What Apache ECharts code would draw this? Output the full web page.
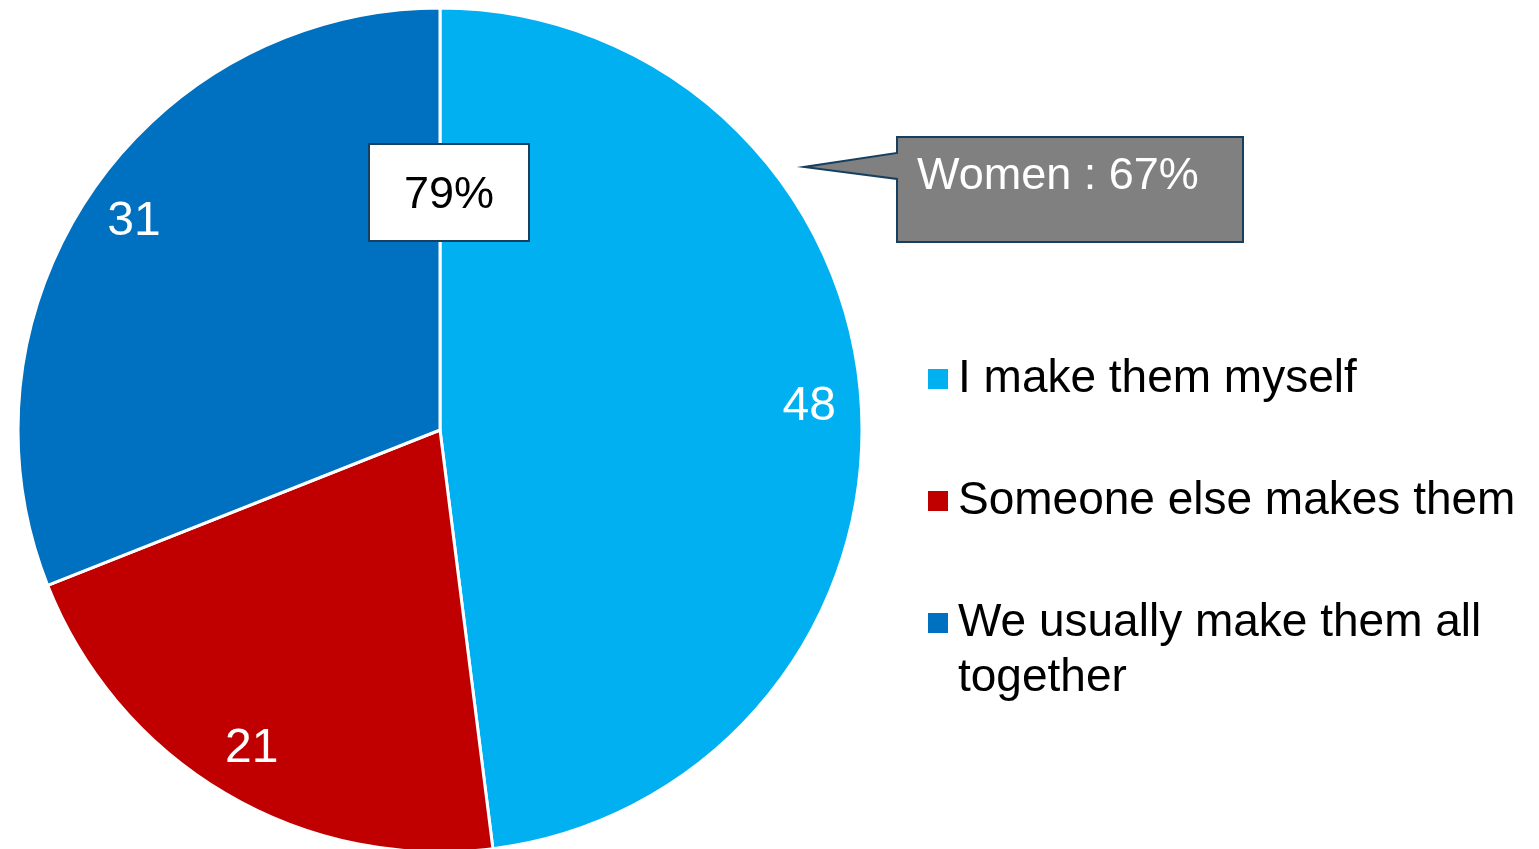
<!DOCTYPE html>
<html>
<head>
<meta charset="utf-8">
<title>Who makes them</title>
<script src="https://cdn.jsdelivr.net/npm/echarts@6/dist/echarts.min.js"></script>
<style>
  html, body { margin: 0; padding: 0; background: #fff; }
  #chart { width: 1539px; height: 849px; }
</style>
</head>
<body>
<div id="chart"></div>
<script>
// data
const categories = ["I make them myself", "Someone else makes them", "We usually make them all together"];
const values = [48, 21, 31];
const colors = ["#00B0F0", "#C00000", "#0070C0"];
const callouts = ["79%", "Women : 67%"];

const FONT = "'Liberation Sans', Arial, sans-serif";
const chart = echarts.init(document.getElementById("chart"));

const pieData = categories.map((name, i) => ({
  name: name,
  value: values[i],
  itemStyle: { color: colors[i] }
}));
// same values, invisible slices: only there to hold the labels out near the rim
const labelData = categories.map((name, i) => ({
  name: name,
  value: values[i],
  itemStyle: { color: "rgba(0,0,0,0)", borderWidth: 0 }
}));

// one legend per item so each row sits where the reference puts it
const legendRows = [379, 501, 623];
const legends = categories.map((name, i) => ({
  data: [name],
  left: 928,
  top: legendRows[i] - 27.5,
  padding: 0,
  orient: "vertical",
  icon: "rect",
  itemWidth: 20,
  itemHeight: 20,
  itemStyle: { borderWidth: 0 },
  selectedMode: false,
  // the last label wraps; its second line is drawn below as graphic text
  formatter: i === 2 ? () => "We usually make them all" : undefined,
  textStyle: {
    fontFamily: FONT,
    fontSize: 46,
    color: "#000",
    lineHeight: 55,
    padding: [0, 0, 0, 5]
  }
}));

chart.setOption({
  animation: false,
  legend: legends,
  series: [
    {
      name: "main",
      type: "pie",
      center: [440, 430],
      radius: [0, 422],
      startAngle: 90,
      clockwise: true,
      silent: true,
      label: { show: false },
      labelLine: { show: false },
      itemStyle: { borderColor: "#fff", borderWidth: 3 },
      data: pieData
    },
    {
      name: "labels",
      type: "pie",
      center: [440, 430],
      radius: [312, 422],
      startAngle: 90,
      clockwise: true,
      silent: true,
      label: {
        show: true,
        position: "inside",
        formatter: "{c}",
        color: "#fff",
        fontFamily: FONT,
        fontSize: 48
      },
      labelLine: { show: false },
      data: labelData
    }
  ],
  graphic: [
    {
      type: "text",
      z: 101,
      x: 958,
      y: 678,
      style: {
        text: "together",
        fill: "#000",
        font: "46px " + FONT,
        align: "left",
        verticalAlign: "middle"
      }
    },
    {
      type: "rect",
      z: 100,
      shape: { x: 369, y: 144, width: 160, height: 97 },
      style: { fill: "#fff", stroke: "#173F5F", lineWidth: 2 }
    },
    {
      type: "text",
      z: 101,
      x: 449,
      y: 196,
      style: {
        text: callouts[0],
        fill: "#000",
        font: "45px " + FONT,
        align: "center",
        verticalAlign: "middle"
      }
    },
    {
      type: "polygon",
      z: 100,
      shape: {
        points: [[897, 137], [1243, 137], [1243, 242], [897, 242], [897, 179], [804, 167], [897, 153]]
      },
      style: { fill: "#808080", stroke: "#173F5F", lineWidth: 2 }
    },
    {
      type: "text",
      z: 101,
      x: 917,
      y: 177,
      style: {
        text: callouts[1],
        fill: "#fff",
        font: "45px " + FONT,
        align: "left",
        verticalAlign: "middle"
      }
    }
  ]
});
</script>
</body>
</html>
